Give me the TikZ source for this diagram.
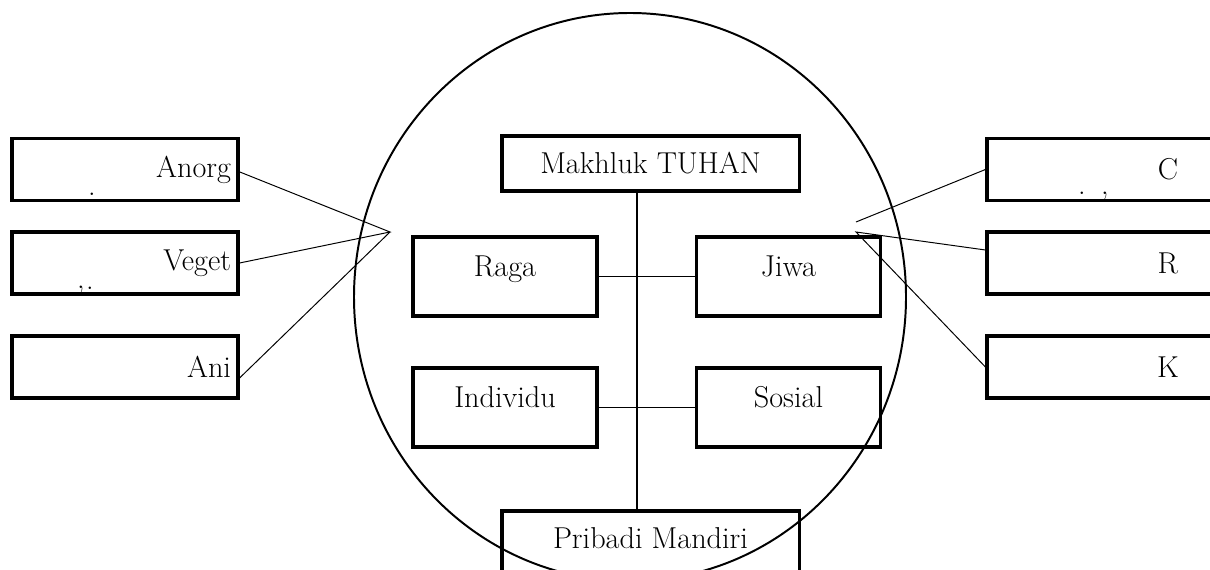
\documentclass[tikz,border=0pt]{standalone}
\usetikzlibrary{positioning}
\tikzset{%
	sidebox/.style  = {draw, rectangle, line width=2.2pt, minimum width=5.65cm, minimum height=1.55cm, text width=5.3cm, align=right, inner xsep=0.175cm},
	rightbox/.style = {draw, rectangle, line width=2.2pt, minimum width=9.05cm, minimum height=1.55cm, text centered},
	partbox/.style  = {draw, rectangle, line width=2.2pt, minimum width=4.6cm, minimum height=1.975cm, text height=0.5cm, text depth=0.5cm, text centered},
	topbox/.style   = {draw, rectangle, line width=2.2pt, minimum width=7.425cm, minimum height=1.375cm, text centered},
	speck/.style    = {inner sep=0pt},
	link/.style     = {line width=0.7pt},
	stem/.style     = {line width=1.3pt},
}

\begin{document}
\begin{tikzpicture}[x=0.025cm,y=-0.025cm,font=\fontsize{21.5}{25}\selectfont]
		\useasboundingbox (0,0) rectangle (1210,570);
		
		% left column
		\node[sidebox] (anorg) at (125,169.5) {Anorg};
		\node[sidebox] (veget) at (125,263) {Veget};
		\node[sidebox] (ani) at (125,367) {Ani\hspace*{0.3cm}};
		\node[speck] (s1) at (92,194) {.};
		\node[speck] (s2) at (90,288) {.};
		\node[speck] (s3) at (81,290) {,};
		
		% right column
		\node[rightbox] (c) at (1168,169.5) {C};
		\node[rightbox] (r) at (1168,263) {R};
		\node[rightbox] (k) at (1168,367) {K};
		\node[speck] (s4) at (1082,193) {.};
		\node[speck] (s5) at (1105,196) {,};
		
		% inside the circle
		\node[topbox] (makhluk) at (650.5,163.5) {Makhluk TUHAN};
		\node[partbox] (raga) at (505,276.5) {Raga};
		\node[partbox] (jiwa) at (788.5,276.5) {Jiwa};
		\node[partbox] (individu) at (505,407.5) {Individu};
		\node[partbox] (sosial) at (788.5,407.5) {Sosial};
		\node[draw, rectangle, line width=2.2pt, minimum width=7.425cm, minimum height=1.85cm, text height=0.5cm, text depth=0.5cm] (pribadi) at (650.5,548) {Pribadi Mandiri};
		
		% the circle
		\draw[line width=1.4pt] (630,297) ellipse [x radius=276, y radius=284];
		
		\coordinate (axis) at (637,300);
		\draw[stem] (makhluk.south -| axis) -- (pribadi.north -| axis);
		\draw[stem] (raga) -- (jiwa);
		\draw[stem] (individu) -- (sosial);
		
		% links to the sides
		\coordinate (kiri) at (390,232);
		\draw[link] ([yshift=-0.06cm]anorg.east) -- (kiri) -- (veget.east);
		\draw[link] ([yshift=-0.275cm]ani.east) -- (kiri);
		
		\coordinate (kanan) at (856,232);
		\coordinate (ujung) at (856,222);
		\draw[link] (c.west) -- (ujung);
		\draw[link] ([yshift=0.325cm]r.west) -- (kanan) -- (k.west);
		
\end{tikzpicture}
\end{document}
